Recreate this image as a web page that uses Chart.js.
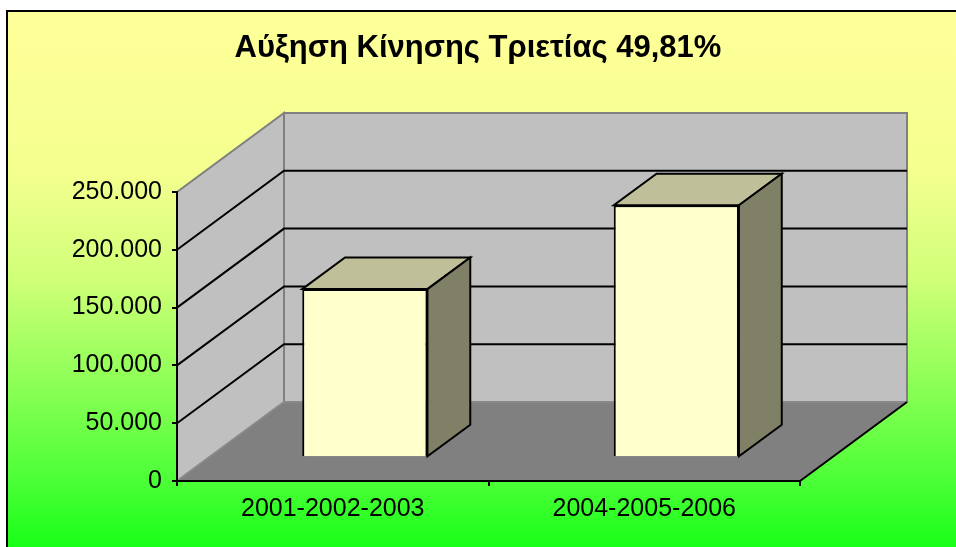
<!DOCTYPE html>
<html>
<head>
<meta charset="utf-8">
<script src="https://cdn.jsdelivr.net/npm/chart.js@4/dist/chart.umd.min.js"></script>
<style>
  html, body { margin: 0; padding: 0; background: #ffffff; overflow: hidden; }
  #chart { display: block; }
</style>
</head>
<body>
<canvas id="chart" width="956" height="547"></canvas>
<script>
// Datos del grafico
const titleText = "Αύξηση Κίνησης Τριετίας 49,81%";
const categories = ["2001-2002-2003", "2004-2005-2006"];
const traffic = [145500, 218000];
const yTicks = [0, 50000, 100000, 150000, 200000, 250000];

// Profundidad 3D (pixeles) y posicion de las barras dentro de ella
const DEPTH_X = 107;
const DEPTH_Y = 79;
const BAR_FRONT = 0.30;
const BAR_DEPTH = 0.40;

// Formato con punto de miles: 250.000
function fmt(v) {
  return String(v).replace(/\B(?=(\d{3})+(?!\d))/g, ".");
}

function poly(ctx, pts, fill, stroke, lw) {
  ctx.beginPath();
  ctx.moveTo(pts[0][0], pts[0][1]);
  for (let i = 1; i < pts.length; i++) ctx.lineTo(pts[i][0], pts[i][1]);
  ctx.closePath();
  if (fill) { ctx.fillStyle = fill; ctx.fill(); }
  if (stroke) { ctx.strokeStyle = stroke; ctx.lineWidth = lw || 2; ctx.stroke(); }
}

// Fondo, paredes y piso
const scenePlugin = {
  id: "scene",
  beforeDraw(chart) {
    const ctx = chart.ctx;
    const area = chart.chartArea;
    const y = chart.scales.y;
    ctx.save();
    ctx.fillStyle = "#ffffff";
    ctx.fillRect(0, 0, chart.width, chart.height);
    const g = ctx.createLinearGradient(0, 10, 0, chart.height);
    g.addColorStop(0, "#ffff99");
    g.addColorStop(0.3, "#f4ff8f");
    g.addColorStop(0.5, "#d0ff78");
    g.addColorStop(0.72, "#84ff52");
    g.addColorStop(0.88, "#4aff36");
    g.addColorStop(1, "#18ff18");
    ctx.fillStyle = g;
    ctx.fillRect(6, 10, chart.width, chart.height);
    ctx.strokeStyle = "#000000";
    ctx.lineWidth = 2;
    ctx.strokeRect(7, 11, 2000, 2000);

    const L = area.left, R = area.right;
    const y0 = y.getPixelForValue(y.min);
    const yTop = y.getPixelForValue(y.max);

    // pared izquierda
    poly(ctx, [[L, y0], [L, yTop], [L + DEPTH_X, yTop - DEPTH_Y], [L + DEPTH_X, y0 - DEPTH_Y]], "#c0c0c0", "#808080", 2);
    // pared de fondo
    poly(ctx, [[L + DEPTH_X, yTop - DEPTH_Y], [R + DEPTH_X, yTop - DEPTH_Y], [R + DEPTH_X, y0 - DEPTH_Y], [L + DEPTH_X, y0 - DEPTH_Y]], "#c0c0c0", "#808080", 2);
    // piso
    poly(ctx, [[L, y0], [L + DEPTH_X, y0 - DEPTH_Y], [R + DEPTH_X, y0 - DEPTH_Y], [R, y0]], "#808080", "#8c8c8c", 1.5);
    ctx.beginPath();
    ctx.moveTo(R, y0);
    ctx.lineTo(R + DEPTH_X, y0 - DEPTH_Y);
    ctx.strokeStyle = "#000000";
    ctx.lineWidth = 2;
    ctx.stroke();

    // lineas de cuadricula sobre las paredes
    ctx.strokeStyle = "#000000";
    ctx.lineWidth = 2;
    yTicks.forEach((v) => {
      if (v === y.min || v === y.max) return;
      const py = y.getPixelForValue(v);
      ctx.beginPath();
      ctx.moveTo(L, py);
      ctx.lineTo(L + DEPTH_X, py - DEPTH_Y);
      ctx.lineTo(R + DEPTH_X, py - DEPTH_Y);
      ctx.stroke();
    });
    ctx.restore();
  },
  beforeDatasetsDraw(chart) {
    chart.ctx.save();
    chart.ctx.translate(BAR_FRONT * DEPTH_X, -BAR_FRONT * DEPTH_Y);
  },
  afterDatasetsDraw(chart) {
    const ctx = chart.ctx;
    const dx = BAR_DEPTH * DEPTH_X, dy = BAR_DEPTH * DEPTH_Y;
    chart.getDatasetMeta(0).data.forEach((bar) => {
      const p = bar.getProps(["x", "y", "base", "width"], true);
      const xl = p.x - p.width / 2, xr = p.x + p.width / 2;
      // cara superior
      poly(ctx, [[xl, p.y], [xr, p.y], [xr + dx, p.y - dy], [xl + dx, p.y - dy]], "#bfbf99", "#000000", 2);
      // cara lateral
      poly(ctx, [[xr, p.y], [xr + dx, p.y - dy], [xr + dx, p.base - dy], [xr, p.base]], "#808066", "#000000", 2);
    });
    ctx.restore();
  }
};

const tickFont = { family: "'Liberation Sans', Arial, sans-serif", size: 25 };

new Chart(document.getElementById("chart"), {
  type: "bar",
  data: {
    labels: categories,
    datasets: [{
      data: traffic,
      backgroundColor: "#ffffcc",
      borderColor: "#000000",
      borderWidth: 2,
      barPercentage: 0.402,
      categoryPercentage: 1,
      clip: false
    }]
  },
  options: {
    responsive: false,
    animation: false,
    layout: { padding: 0 },
    plugins: {
      legend: { display: false },
      tooltip: { enabled: false },
      title: {
        display: true,
        text: titleText,
        color: "#000000",
        font: { family: "'Liberation Sans', Arial, sans-serif", size: 31, weight: "bold" },
        padding: { top: 30, bottom: 124.8 }
      }
    },
    scales: {
      x: {
        afterFit: (s) => { s.height = 66; },
        grid: { display: true, drawOnChartArea: false, drawTicks: true, tickLength: 5, color: "#000000", lineWidth: 2, offset: true },
        border: { display: true, color: "#000000", width: 2 },
        ticks: { color: "#000000", font: tickFont, padding: 8, maxRotation: 0 }
      },
      y: {
        min: 0,
        max: 250000,
        afterFit: (s) => { s.width = 177; },
        afterBuildTicks: (s) => { s.ticks = yTicks.map((v) => ({ value: v })); },
        grid: { display: true, drawOnChartArea: false, drawTicks: true, tickLength: 5, color: "#000000", lineWidth: 2 },
        border: { display: true, color: "#000000", width: 2 },
        ticks: { color: "#000000", font: tickFont, padding: 10, callback: (v) => fmt(v) }
      },
      // eje vacio a la derecha: reserva el espacio de la profundidad 3D
      yRight: {
        position: "right",
        min: 0,
        max: 250000,
        afterFit: (s) => { s.width = 156; },
        grid: { display: false },
        border: { display: false },
        ticks: { display: false }
      }
    }
  },
  plugins: [scenePlugin]
});
</script>
</body>
</html>
